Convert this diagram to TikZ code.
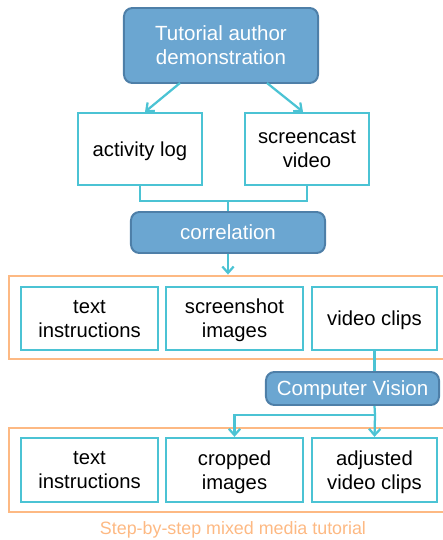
\documentclass[tikz,border=0pt]{standalone}
\usepackage{fontspec}
\setmainfont{Liberation Sans}
\usepackage{tikz}
\usetikzlibrary{arrows.meta,positioning}

\definecolor{boxcyan}{HTML}{4BC3D4}
\definecolor{grporange}{HTML}{FDB983}
\definecolor{stepfill}{HTML}{6BA6D1}
\definecolor{stepline}{HTML}{4E7FA8}

\begin{document}
\begin{tikzpicture}[x=0.025cm,y=-0.025cm,
        stepbox/.style={draw=stepline, fill=stepfill, line width=1.4pt, rounded corners=6pt,
            text=white, align=center, font=\fontsize{14.6}{17}\selectfont, inner sep=0pt,
            text depth=-4pt},
        itembox/.style={draw=boxcyan, fill=white, line width=1.6pt, align=center,
            font=\fontsize{14.4}{17}\selectfont, inner sep=0pt, text depth=-4pt},
        group/.style={draw=grporange, line width=2pt, inner sep=0pt},
        link/.style={draw=boxcyan, line width=1.6pt},
        >={Straight Barb[length=4.5pt,width=8pt]}]
    \useasboundingbox (0,0) rectangle (442,540);
    % source and recordings
    \node[stepbox, minimum width=4.85cm, minimum height=1.875cm] (demo) at (221,45.5)
        {Tutorial author\\demonstration};
    \node[itembox, minimum width=3.1cm, minimum height=1.8cm] (log) at (140,149) {activity log};
    \node[itembox, minimum width=3.1cm, minimum height=1.8cm] (cast) at (307,149) {screencast\\video};
    \node[stepbox, minimum width=4.85cm, minimum height=1.025cm] (corr) at (228,232.5) {correlation};
    \coordinate (d1) at (180,83);
    \coordinate (d2) at (267,83);
    \coordinate (join) at (228,201);

    % first tutorial
    \node[group, minimum width=10.925cm, minimum height=2.075cm] (grp1) at (227.5,317.5) {};
    \node[itembox, minimum width=3.425cm, minimum height=1.575cm] (txt1) at (89.5,318.5) {text\\instructions};
    \node[itembox, minimum width=3.425cm, minimum height=1.575cm] (shot) at (234.5,318.5) {screenshot\\images};
    \node[itembox, minimum width=3.125cm, minimum height=1.575cm] (clip) at (374.5,318.5) {video clips};

    \node[stepbox, minimum width=4.325cm, minimum height=0.825cm] (cv) at (352.5,388.5) {Computer Vision};
    \coordinate (split) at (375,415);

    % final tutorial
    \node[group, minimum width=10.925cm, minimum height=2.1cm] (grp2) at (227.5,470) {};
    \node[itembox, minimum width=3.425cm, minimum height=1.6cm] (txt2) at (89.5,470) {text\\instructions};
    \node[itembox, minimum width=3.425cm, minimum height=1.6cm] (crop) at (234.5,470) {cropped\\images};
    \node[itembox, minimum width=3.125cm, minimum height=1.6cm] (adj) at (374.5,470) {adjusted\\video clips};
    \node[text=grporange, font=\fontsize{12.7}{15}\selectfont] (cap) at (233,530)
        {Step-by-step mixed media tutorial};

    \draw[link,->] (d1) -- (log.north -| 145,0);
    \draw[link,->] (d2) -- (cast.north -| 303,0);
    \draw[link] (log.south) |- (join) -| (cast.south);
    \draw[link] (join) -- (corr.north);
    \draw[link,->] (corr.south) -- (corr.south |- grp1.north);
    \draw[link] (clip.south) -- (clip.south |- cv.north);
    \draw[link] (clip.south |- cv.south) -- (split);
    \draw[link,->] (split) -- (adj.north);
    \draw[link,->] (split) -| (crop.north);
\end{tikzpicture}
\end{document}
